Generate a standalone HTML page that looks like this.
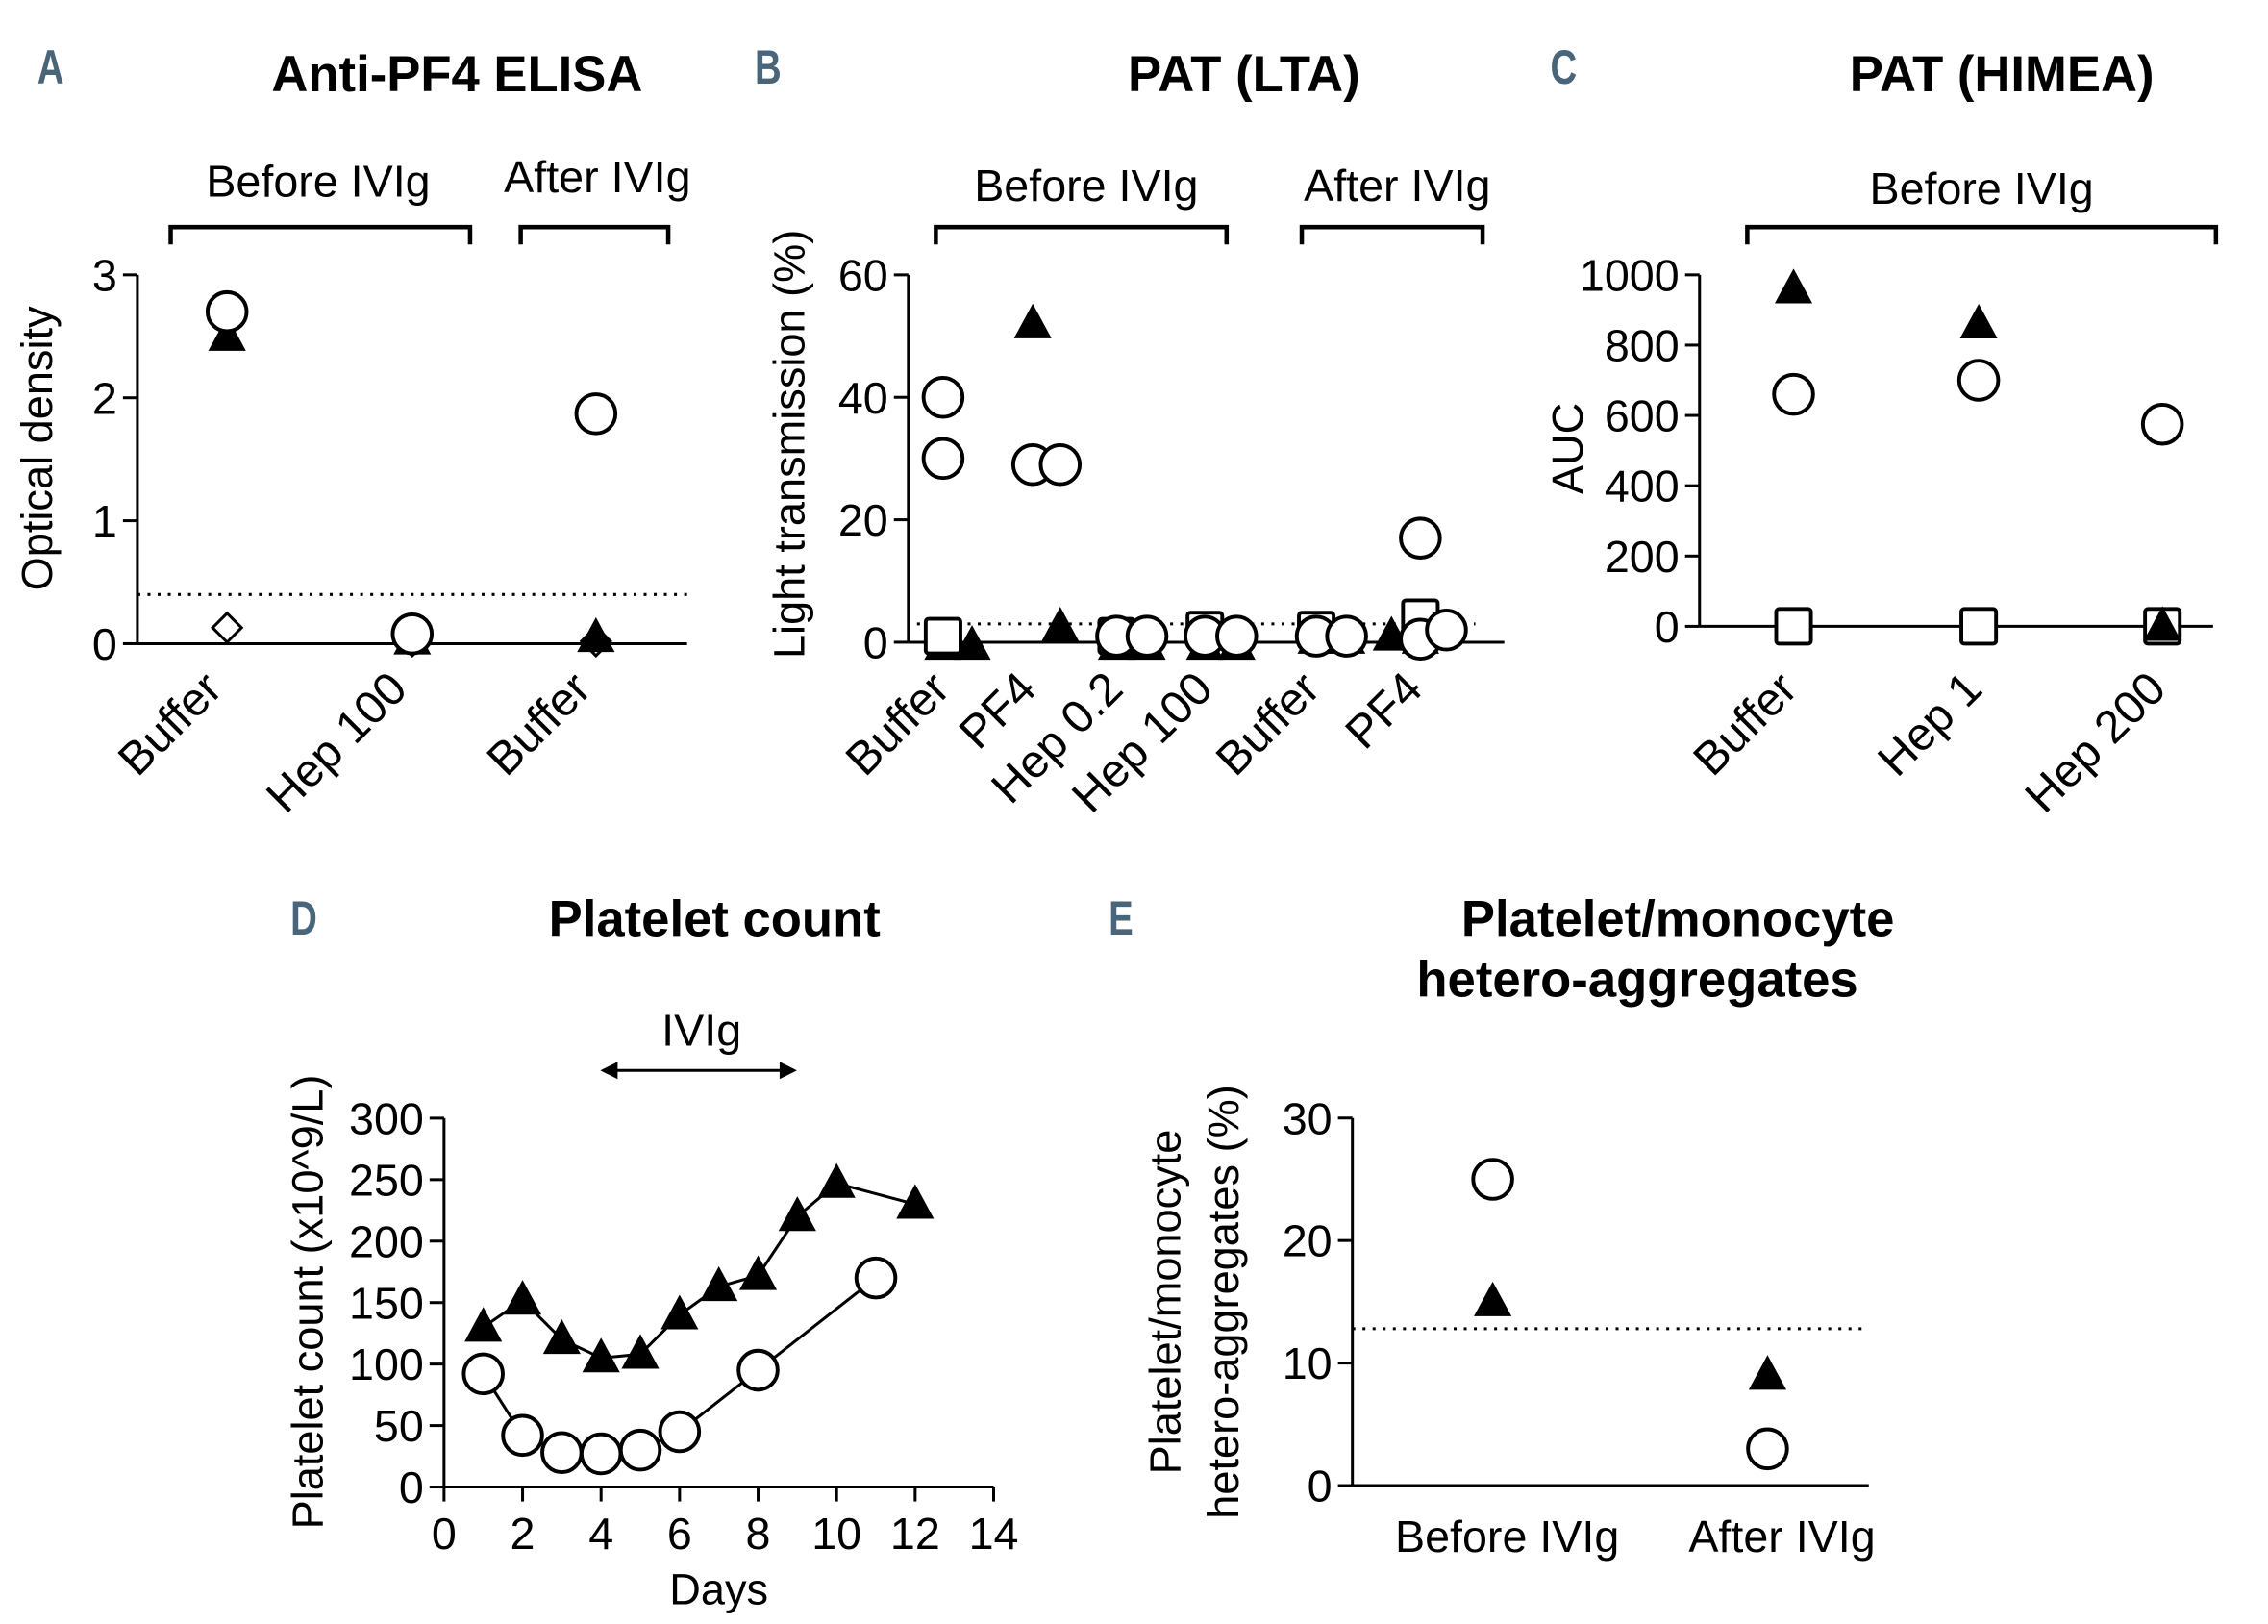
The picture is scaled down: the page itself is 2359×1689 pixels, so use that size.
<!DOCTYPE html>
<html><head><meta charset="utf-8"><style>
html,body{margin:0;padding:0;background:#fff}
svg{display:block}
text{font-family:"Liberation Sans",sans-serif;fill:#000}
text.letter{fill:#48657a}
</style></head><body>
<svg id="fig" width="2359" height="1689" viewBox="0 0 1568 1122.7" preserveAspectRatio="none" xmlns="http://www.w3.org/2000/svg"></svg>
<script>
// ---- Panel A data ----
const aCats = ["Buffer","Hep 100","Buffer"];
const aCircle = [2.7, 0.08, 1.87];
const aTriangle = [2.5, 0.03, 0.05];
const aDiamond = [0.13, 0.02, 0.02];
const aTicks = [0,1,2,3];
const aCut = 0.4;
// ---- Panel B data ----
const bCats = ["Buffer","PF4","Hep 0.2","Hep 100","Buffer","PF4"];
const bCircle1 = [40, 29, 1, 1, 1, 17];
const bCircle2 = [30, 29, 1, 1, 1, 0.5];
const bCircle3 = [null, null, null, null, null, 2];
const bSquare = [1, null, 1, 2, 2, 4];
const bTriangle1 = [-0.5, 52, -0.5, -0.5, 0.5, 1];
const bTriangle2 = [-0.5, 2.5, -0.5, -0.5, 0.5, 0.5];
const bTicks = [0,20,40,60];
const bCut = 3;
// ---- Panel C data ----
const cCats = ["Buffer","Hep 1","Hep 200"];
const cCircle = [660, 700, 575];
const cTriangle = [960, 860, 0];
const cSquare = [0, 0, 0];
const cTicks = [0,200,400,600,800,1000];
// ---- Panel D data ----
const dDaysT = [1,2,3,4,5,6,7,8,9,10,12];
const dTriangle = [130,152,120,105,108,140,163,172,220,247,230];
const dDaysC = [1,2,3,4,5,6,8,11];
const dCircle = [92,42,28,27,30,45,95,170];
const dXTicks = [0,2,4,6,8,10,12,14];
const dYTicks = [0,50,100,150,200,250,300];
// ---- Panel E data ----
const eCats = ["Before IVIg","After IVIg"];
const eCircle = [25, 3];
const eTriangle = [15, 9];
const eTicks = [0,10,20,30];
const eCut = 12.8;

const svg = document.getElementById('fig');
const NS = 'http://www.w3.org/2000/svg';
const TF = 30, LF = 31, HF = 35;
function el(tag, attrs, parent){
  const e = document.createElementNS(NS, tag);
  for (const k in attrs) e.setAttribute(k, attrs[k]);
  (parent||svg).appendChild(e);
  return e;
}
function txt(x,y,s,size,opts){
  opts = opts||{};
  const t = el('text',{x:x,y:y,'font-size':size,'text-anchor':opts.anchor||'middle'});
  if (opts.bold) t.setAttribute('font-weight','bold');
  if (opts.rot!=null) t.setAttribute('transform','rotate('+opts.rot+' '+x+' '+y+')');
  if (opts.family) t.setAttribute('font-family',opts.family);
  t.textContent = s;
  return t;
}
function circle(x,y){ return el('circle',{cx:x,cy:y,r:13.5,fill:'#fff',stroke:'#000','stroke-width':2.6}); }
function tri(x,y){ return el('polygon',{points:(x-13)+','+(y+10)+' '+(x+13)+','+(y+10)+' '+x+','+(y-14),fill:'#000'}); }
function sq(x,y){ return el('rect',{x:x-12,y:y-12,width:24,height:24,rx:2,fill:'#fff',stroke:'#000','stroke-width':2.6}); }
function dia(x,y){ return el('polygon',{points:x+','+(y-10)+' '+(x+10)+','+y+' '+x+','+(y+10)+' '+(x-10)+','+y,fill:'#fff',stroke:'#000','stroke-width':2}); }
function line(x1,y1,x2,y2,w,dash){ const l=el('line',{x1:x1,y1:y1,x2:x2,y2:y2,stroke:'#000','stroke-width':w||2}); if(dash) l.setAttribute('stroke-dasharray',dash); return l; }
function letter(x,y,s){ const t=txt(x,y,s,30,{bold:true,family:'"Liberation Sans Narrow","Liberation Sans",sans-serif'}); t.setAttribute('class','letter'); t.setAttribute('transform','translate('+x+' '+y+') scale(0.85 1.1) translate('+(-x)+' '+(-y)+')');   }
function bracket(x1,x2,y,label,ly,lx){
  const p=el('path',{d:'M'+x1+' '+(y+12)+' V'+y+' H'+x2+' V'+(y+12),fill:'none',stroke:'#000','stroke-width':3});
   
  const t=txt(lx,ly,label,LF);  
}
function yAxis(x,yFn,ticks,top,bottom){
  const g=el('g',{});
   
  el('line',{x1:x,y1:top,x2:x,y2:bottom,stroke:'#000','stroke-width':2},g);
  ticks.forEach(v=>{
    const y=yFn(v);
    el('line',{x1:x-10,y1:y,x2:x,y2:y,stroke:'#000','stroke-width':2},g);
    g.appendChild(txt(x-14,y+11,String(v),LF,{anchor:'end'}));
  });
}

// ================= Panel A =================
(function(){
  const yA = v => 445 - v*85;
  const xA = [157, 285, 412];
  letter(35,58,'A');
  const t=txt(316,63,'Anti-PF4 ELISA',HF,{bold:true});  
  bracket(118,325,157,'Before IVIg',136,220);
  bracket(360,462,157,'After IVIg',133,413);
  yAxis(95,yA,aTicks,yA(3),yA(0));
  const xa=line(95,445,475,445,2);  
  const cl=line(95,yA(aCut),475,yA(aCut),2,'2 5');  
  const yl=txt(36,310,'Optical density',TF,{rot:-90});  
  aCats.forEach((c,i)=>{
    const lb=txt(xA[i]-2,478,c,LF+1,{anchor:'end',rot:-45});  
    let m=dia(xA[i],yA(aDiamond[i]));  
    m=tri(xA[i],yA(aTriangle[i]));  
    m=circle(xA[i],yA(aCircle[i]));  
  });
})();

// ================= Panel B =================
(function(){
  const yB = v => 444 - v*4.233;
  const xB = [652, 714, 772, 833, 910, 982];
  const off2 = [0, 19, 21, 22, 21, 0];
  letter(531,58,'B');
  const t=txt(860,63,'PAT (LTA)',HF,{bold:true});  
  bracket(647,848,157,'Before IVIg',139,751);
  bracket(900,1025,157,'After IVIg',139,966);
  yAxis(628,yB,bTicks,yB(60),yB(0));
  const xa=line(628,444,1040,444,2);  
  const cl=line(634,yB(bCut),1020,yB(bCut),2,'2 5');  
  const yl=txt(556,307,'Light transmission (%)',TF,{rot:-90});  
  const lbx=[658,718,778,840,914,985];
  bCats.forEach((c,i)=>{
    const lb=txt(lbx[i],478,c,LF+1,{anchor:'end',rot:-45});  
    let m;
    m=tri(xB[i]-(i==5?20:0),yB(bTriangle1[i]));  
    m=tri(xB[i]+(i==5?0:off2[i]||20),yB(bTriangle2[i]));  
    if(bSquare[i]!=null){ m=sq(xB[i],yB(bSquare[i]));   }
    m=circle(xB[i],yB(bCircle1[i]));  
    m=circle(xB[i]+(i==1?19:(i==0?0:(i==5?0:off2[i]))),yB(bCircle2[i]));  
    if(bCircle3[i]!=null){ m=circle(xB[i]+18,yB(bCircle3[i]));   }
  });
})();

// ================= Panel C =================
(function(){
  const yC = v => 433 - v*0.243;
  const xC = [1240, 1368, 1495];
  letter(1081,58,'C');
  const t=txt(1384,63,'PAT (HIMEA)',HF,{bold:true});  
  bracket(1208,1532,157,'Before IVIg',141,1370);
  yAxis(1175,yC,cTicks,yC(1000),yC(0));
  const xa=line(1175,433,1530,433,2);  
  const yl=txt(1094,310,'AUC',TF,{rot:-90});  
  cCats.forEach((c,i)=>{
    const lb=txt(xC[i]+4,478,c,LF+1,{anchor:'end',rot:-45});  
    let m=sq(xC[i],yC(cSquare[i]));  
    m=tri(xC[i],yC(cTriangle[i]));  
    m=circle(xC[i],yC(cCircle[i]));  
  });
})();

// ================= Panel D =================
(function(){
  const xD = v => 307 + v*27.14;
  const yD = v => 1028 - v*0.85;
  letter(210,646,'D');
  const t=txt(494,647,'Platelet count',HF,{bold:true});  
  yAxis(307,yD,dYTicks,yD(300),yD(0));
  const g=el('g',{});  
  el('line',{x1:307,y1:1028,x2:xD(14),y2:1028,stroke:'#000','stroke-width':2},g);
  dXTicks.forEach(v=>{ el('line',{x1:xD(v),y1:1028,x2:xD(v),y2:1038,stroke:'#000','stroke-width':2},g); g.appendChild(txt(xD(v),1071,String(v),LF)); });
  const xt=txt(497,1109,'Days',TF);  
  const yl=txt(223,900,'Platelet count (x10^9/L)',TF,{rot:-90});  
  const ar=el('g',{});  
  el('line',{x1:420,y1:740,x2:546,y2:740,stroke:'#000','stroke-width':2},ar);
  el('polygon',{points:'415,740 427,734 427,746',fill:'#000'},ar);
  el('polygon',{points:'551,740 539,734 539,746',fill:'#000'},ar);
  ar.appendChild(txt(485,723,'IVIg',LF));
  const lt=el('polyline',{points:dDaysT.map((d,i)=>xD(d)+','+yD(dTriangle[i])).join(' '),fill:'none',stroke:'#000','stroke-width':2});
   
  const lc=el('polyline',{points:dDaysC.map((d,i)=>xD(d)+','+yD(dCircle[i])).join(' '),fill:'none',stroke:'#000','stroke-width':2});
   
  dDaysT.forEach((d,i)=>{ const m=tri(xD(d),yD(dTriangle[i]));   });
  dDaysC.forEach((d,i)=>{ const m=circle(xD(d),yD(dCircle[i]));   });
})();

// ================= Panel E =================
(function(){
  const yE = v => 1027 - v*8.47;
  const xE = [1032, 1222];
  letter(775,646,'E');
  let t=txt(1160,647,'Platelet/monocyte',HF,{bold:true});  
  t=txt(1132,689,'hetero-aggregates',HF,{bold:true});  
  yAxis(935,yE,eTicks,yE(30),yE(0));
  const xa=line(935,1027,1292,1027,2);  
  const cl=line(935,yE(eCut),1292,yE(eCut),2,'2 5');  
  let yl=txt(816,900,'Platelet/monocyte',TF,{rot:-90});  
  yl=txt(856,900,'hetero-aggregates (%)',TF,{rot:-90});  
  const lx=[1042,1232];
  eCats.forEach((c,i)=>{
    const lb=txt(lx[i],1073,c,LF);  
    let m=tri(xE[i],yE(eTriangle[i]));  
    m=circle(xE[i],yE(eCircle[i]));  
  });
})();
</script>
</body></html>
